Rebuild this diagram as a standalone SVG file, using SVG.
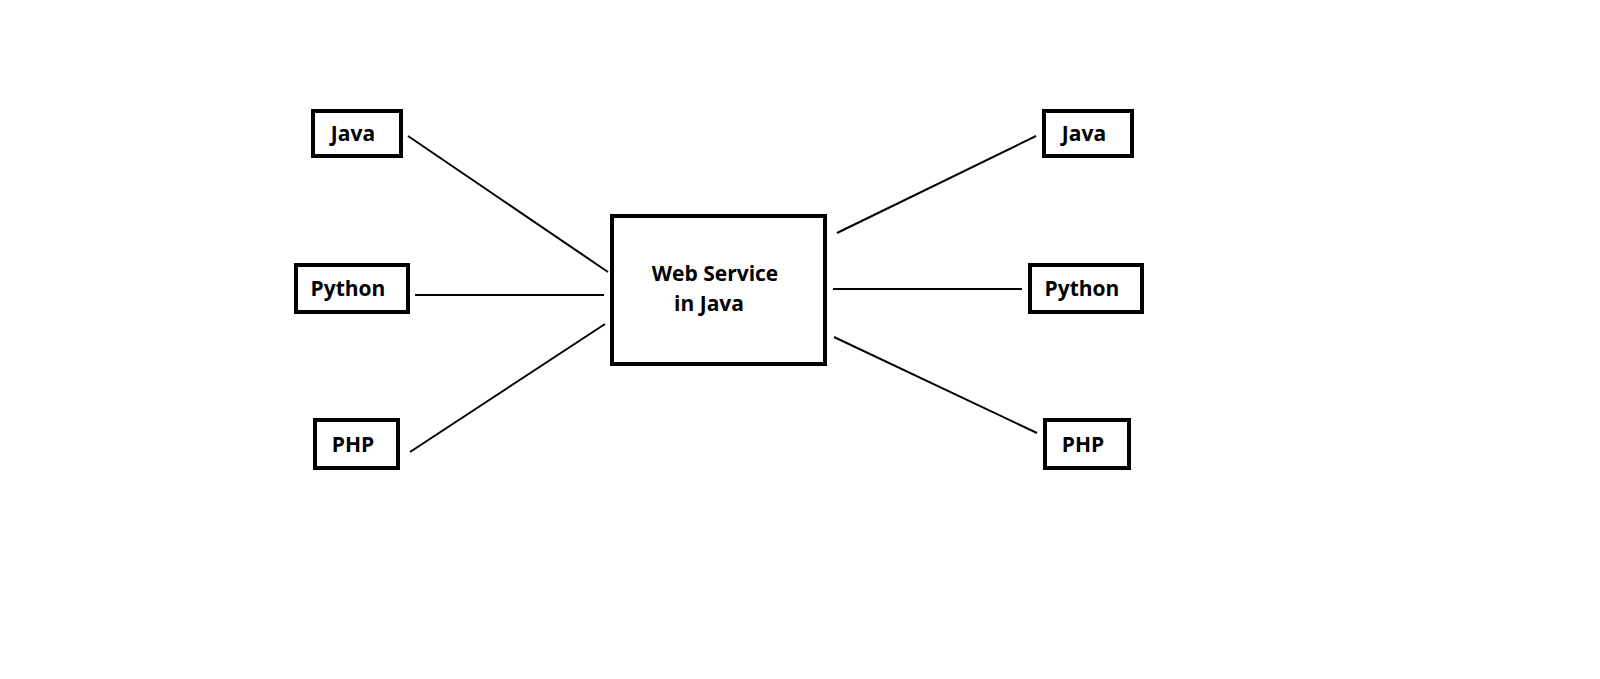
<svg xmlns="http://www.w3.org/2000/svg" width="1600" height="679" viewBox="0 0 1600 679">
<style>
.box{fill:#fff;stroke:#000;stroke-width:4}
.lbl{font-family:"Open Sans","Liberation Sans",sans-serif;font-weight:bold;font-size:21px;fill:#000;text-anchor:middle}
.conn line{stroke:#000;stroke-width:2}
</style>
<rect width="1600" height="679" fill="#fff"/>
<g id="connectors" class="conn">
<line x1="408" y1="136" x2="608" y2="272"/>
<line x1="415" y1="295" x2="604" y2="295"/>
<line x1="410" y1="452" x2="605" y2="324"/>
<line x1="837" y1="233" x2="1036" y2="136"/>
<line x1="833" y1="289" x2="1022" y2="289"/>
<line x1="834" y1="337" x2="1037" y2="433"/>
</g>
<g id="center">
<rect class="box" x="612" y="216" width="213" height="148"/>
<text class="lbl" x="715" y="281">Web Service</text>
<text class="lbl" x="709" y="311">in Java</text>
</g>
<g id="left-java">
<rect class="box" x="313" y="111" width="88" height="45"/>
<text class="lbl" x="353" y="141">Java</text>
</g>
<g id="left-python">
<rect class="box" x="296" y="265" width="112" height="47"/>
<text class="lbl" x="348" y="296">Python</text>
</g>
<g id="left-php">
<rect class="box" x="315" y="420" width="83" height="48"/>
<text class="lbl" x="353" y="452">PHP</text>
</g>
<g id="right-java">
<rect class="box" x="1044" y="111" width="88" height="45"/>
<text class="lbl" x="1084" y="141">Java</text>
</g>
<g id="right-python">
<rect class="box" x="1030" y="265" width="112" height="47"/>
<text class="lbl" x="1082" y="296">Python</text>
</g>
<g id="right-php">
<rect class="box" x="1045" y="420" width="84" height="48"/>
<text class="lbl" x="1083" y="452">PHP</text>
</g>
</svg>
